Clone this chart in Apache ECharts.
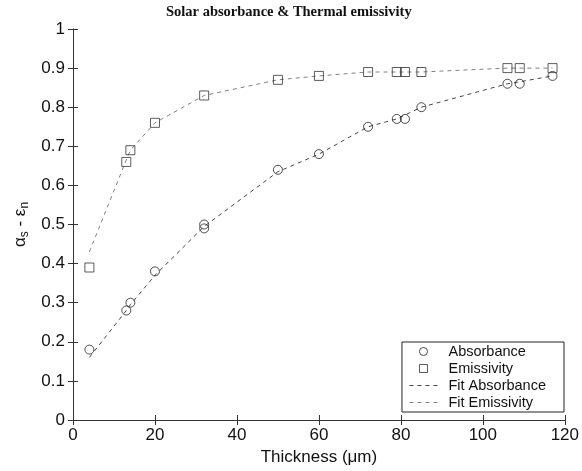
<!DOCTYPE html>
<html>
<head>
<meta charset="utf-8">
<script src="https://cdn.jsdelivr.net/npm/echarts@6/dist/echarts.min.js"></script>
<style>
  html, body { margin: 0; padding: 0; background: #fff; }
  #chart { width: 582px; height: 471px; }
</style>
</head>
<body>
<div id="chart"></div>
<script>
// measured thickness (um)
var thick = [4, 13, 14, 20, 32, 32, 50, 60, 72, 79, 81, 85, 106, 109, 117];
var absorbance = [0.18, 0.28, 0.30, 0.38, 0.49, 0.50, 0.64, 0.68, 0.75, 0.77, 0.77, 0.80, 0.86, 0.86, 0.88];
var thickE = [4, 13, 14, 20, 32, 50, 60, 72, 79, 81, 85, 106, 109, 117];
var emissivity = [0.39, 0.66, 0.69, 0.76, 0.83, 0.87, 0.88, 0.89, 0.89, 0.89, 0.89, 0.90, 0.90, 0.90];

// fit curves
var fitX = [4, 13, 14, 20, 32, 50, 60, 72, 79, 81, 85, 106, 109, 117];
var fitAbs = [0.16, 0.28, 0.295, 0.37, 0.495, 0.635, 0.68, 0.75, 0.77, 0.78, 0.80, 0.86, 0.865, 0.88];
var fitEmis = [0.43, 0.665, 0.69, 0.76, 0.83, 0.87, 0.88, 0.89, 0.89, 0.89, 0.89, 0.90, 0.90, 0.90];

function pairs(xs, ys) {
  var out = [];
  for (var i = 0; i < xs.length; i++) out.push([xs[i], ys[i]]);
  return out;
}

var chart = echarts.init(document.getElementById('chart'));

var font = 'Liberation Sans, Arial, sans-serif';
var axisCol = '#333';

chart.setOption({
  animation: false,
  title: {
    text: 'Solar absorbance & Thermal emissivity',
    left: 161,
    top: 0,
    textStyle: { fontFamily: 'Liberation Serif, Times New Roman, serif', fontWeight: 'bold', fontSize: 14.5, color: '#111' }
  },
  grid: { left: 73, right: 15, top: 29, bottom: 51 },
  legend: {
    orient: 'vertical',
    right: 18,
    bottom: 59,
    backgroundColor: '#fff',
    borderColor: '#222',
    borderWidth: 1,
    borderRadius: 0,
    padding: [2, 18, 2, 7],
    itemWidth: 28,
    itemHeight: 8,
    itemGap: 2,
    symbolKeepAspect: true,
    itemStyle: { borderWidth: 1 },
    lineStyle: { width: 1 },
    textStyle: { fontFamily: font, fontSize: 14.5, color: '#111', padding: [0, 0, 0, 6] },
    data: [
      'Absorbance',
      { name: 'Emissivity', icon: 'path://M0,0L8,0L8,8L0,8Z' },
      { name: 'Fit Absorbance', itemStyle: { opacity: 0 } },
      { name: 'Fit Emissivity', itemStyle: { opacity: 0 } }
    ]
  },
  xAxis: [{
    type: 'value', min: 0, max: 120, interval: 20,
    axisLine: { lineStyle: { color: axisCol } },
    axisTick: { inside: true, length: 5, lineStyle: { color: axisCol } },
    splitLine: { show: false },
    axisLabel: { fontFamily: font, fontSize: 17, color: '#111', margin: 7 },
    name: 'Thickness (μm)',
    nameLocation: 'middle',
    nameGap: 28,
    nameTextStyle: { fontFamily: font, fontSize: 17, color: '#111' }
  }, {
    type: 'value', position: 'top', min: 0, max: 120, interval: 20,
    axisLine: { lineStyle: { color: axisCol } },
    axisTick: { inside: true, length: 5, lineStyle: { color: axisCol } },
    axisLabel: { show: false },
    splitLine: { show: false }
  }],
  yAxis: [{
    type: 'value', min: 0, max: 1, interval: 0.1,
    axisLine: { show: true, lineStyle: { color: axisCol } },
    axisTick: { show: true, inside: true, length: 5, lineStyle: { color: axisCol } },
    splitLine: { show: false },
    axisLabel: {
      fontFamily: font, fontSize: 17, color: '#111', margin: 8,
      formatter: function (v) { return String(Math.round(v * 10) / 10); }
    },
    name: '{g|α}{sub|s}{g| - ε}{sub|n}',
    nameLocation: 'middle',
    nameGap: 27,
    nameRotate: 90,
    nameTextStyle: {
      rich: {
        g: { fontFamily: font, fontSize: 17, color: '#111' },
        sub: { fontFamily: font, fontSize: 12, color: '#111', padding: [9, 0, 0, 0] }
      }
    }
  }, {
    type: 'value', position: 'right', min: 0, max: 1, interval: 0.1,
    axisLine: { show: true, lineStyle: { color: axisCol } },
    axisTick: { show: true, inside: true, length: 5, lineStyle: { color: axisCol } },
    axisLabel: { show: false },
    splitLine: { show: false }
  }],
  series: [{
    name: 'Fit Absorbance',
    type: 'line',
    data: pairs(fitX, fitAbs),
    symbol: 'none',
    lineStyle: { color: '#444', width: 1, type: [4, 4] },
    itemStyle: { color: '#444' },
    z: 2
  }, {
    name: 'Fit Emissivity',
    type: 'line',
    data: pairs(fitX, fitEmis),
    symbol: 'none',
    lineStyle: { color: '#808080', width: 1, type: [4, 4] },
    itemStyle: { color: '#808080' },
    z: 2
  }, {
    name: 'Absorbance',
    type: 'scatter',
    data: pairs(thick, absorbance),
    symbol: 'circle',
    symbolSize: 9,
    itemStyle: { color: 'rgba(255,255,255,0)', borderColor: '#222', borderWidth: 1 },
    z: 3
  }, {
    name: 'Emissivity',
    type: 'scatter',
    data: pairs(thickE, emissivity),
    symbol: 'rect',
    symbolSize: 9,
    itemStyle: { color: 'rgba(255,255,255,0)', borderColor: '#333', borderWidth: 1 },
    z: 3
  }]
});
</script>
</body>
</html>
